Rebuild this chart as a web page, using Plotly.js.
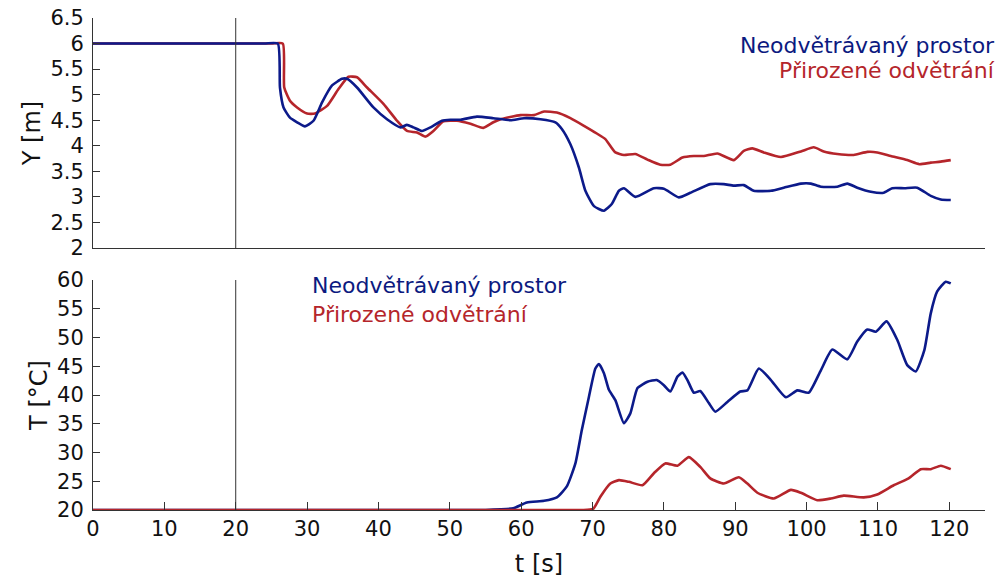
<!DOCTYPE html>
<html>
<head>
<meta charset="utf-8">
<script src="https://cdn.plot.ly/plotly-3.0.1.min.js"></script>
<style>html,body{margin:0;padding:0;background:#fff;}#chart{width:1003px;height:582px;}</style>
</head>
<body>
<div id="chart"></div>
<script>
// ---- data ----
const seriesNames = ["Neodvětrávaný prostor", "Přirozené odvětrání"];
const eventT = 20;

const tYBlue = [0, 12, 24, 25.9, 26.2, 26.7, 27.6, 28.6, 29.7, 30.9, 32.1, 33.5, 34.9, 35.6, 37.0, 39.3, 41.2, 43.1, 44.0, 44.9, 46.1, 47.3, 48.9, 50.1, 51.5, 53.8, 56.1, 58.5, 60.4, 62.7, 64.8, 65.7, 66.9, 68.1, 69.0, 70.2, 71.6, 72.7, 73.7, 74.4, 76.0, 78.6, 80.0, 82.1, 83.7, 86.5, 88.4, 89.8, 91.2, 92.6, 95.0, 96.8, 99.2, 100.6, 102.0, 104.3, 105.7, 107.1, 109.0, 110.8, 112.0, 113.7, 115.5, 117.4, 118.8, 120.2];
const yBlue = [6, 6, 6, 6, 5.14, 4.75, 4.55, 4.46, 4.38, 4.49, 4.85, 5.18, 5.31, 5.31, 5.14, 4.75, 4.52, 4.36, 4.41, 4.36, 4.29, 4.36, 4.49, 4.51, 4.51, 4.57, 4.54, 4.50, 4.54, 4.52, 4.46, 4.33, 4.03, 3.57, 3.12, 2.82, 2.73, 2.86, 3.12, 3.17, 3.0, 3.17, 3.16, 2.99, 3.08, 3.25, 3.25, 3.22, 3.23, 3.12, 3.12, 3.18, 3.26, 3.26, 3.2, 3.2, 3.26, 3.18, 3.1, 3.08, 3.17, 3.17, 3.18, 3.02, 2.95, 2.94];

const tYRed = [0, 12, 25, 26.6, 26.8, 27.6, 28.6, 30.0, 31.1, 32.8, 34.4, 35.8, 37.0, 38.4, 40.7, 42.6, 44.0, 45.4, 46.6, 47.7, 49.1, 51.0, 52.9, 54.7, 56.1, 57.1, 59.9, 61.8, 63.2, 65.0, 66.9, 68.8, 70.6, 71.8, 73.2, 74.4, 76.0, 77.7, 79.5, 80.9, 82.6, 84.2, 85.6, 87.5, 89.8, 91.2, 92.4, 94.0, 96.4, 99.2, 101.0, 102.4, 104.3, 106.6, 108.5, 109.9, 111.8, 114.1, 115.8, 117.4, 118.8, 120.2];
const yRed = [6, 6, 6, 6, 5.14, 4.88, 4.75, 4.63, 4.63, 4.78, 5.11, 5.35, 5.34, 5.14, 4.82, 4.49, 4.29, 4.26, 4.18, 4.29, 4.48, 4.49, 4.43, 4.35, 4.46, 4.52, 4.60, 4.60, 4.67, 4.65, 4.54, 4.39, 4.24, 4.13, 3.87, 3.82, 3.84, 3.73, 3.63, 3.63, 3.77, 3.80, 3.80, 3.85, 3.72, 3.90, 3.95, 3.87, 3.78, 3.89, 3.97, 3.89, 3.84, 3.82, 3.88, 3.87, 3.80, 3.72, 3.64, 3.67, 3.69, 3.72];

const tTBlue = [0, 20, 40, 55, 57.1, 58.9, 60.8, 63.2, 65.0, 66.4, 67.6, 68.5, 69.5, 70.4, 70.9, 71.6, 72.3, 73.2, 74.4, 75.3, 76.3, 77.7, 79.0, 80.0, 80.9, 81.9, 82.6, 83.3, 84.2, 85.1, 86.3, 87.2, 88.9, 90.7, 91.7, 93.3, 95.0, 97.1, 98.7, 100.3, 102.0, 103.6, 105.7, 107.1, 108.5, 109.7, 111.2, 112.7, 114.1, 115.3, 116.5, 117.4, 118.3, 119.5, 120.2];
const TBlue = [20, 20, 20, 20, 20.1, 20.3, 21.3, 21.6, 22.2, 24.1, 28.1, 33.9, 39.7, 44.6, 45.4, 43.8, 40.9, 39.1, 35.1, 36.8, 41.2, 42.3, 42.6, 41.7, 40.6, 43.2, 43.9, 42.6, 40.4, 40.7, 38.6, 37.1, 38.8, 40.6, 40.8, 44.6, 42.6, 39.6, 40.8, 40.4, 44.3, 47.9, 46.2, 49.3, 51.4, 51.0, 52.8, 49.6, 45.2, 44.1, 47.8, 54.2, 58.0, 59.7, 59.4];

const tTRed = [0, 20, 40, 60, 68.5, 70.1, 71.1, 72.5, 73.7, 75.1, 77.0, 78.6, 80.2, 81.9, 83.5, 85.1, 86.5, 88.4, 90.5, 91.7, 93.1, 95.4, 97.8, 99.2, 101.5, 103.4, 105.2, 108.0, 109.9, 112.2, 114.3, 116.0, 117.4, 118.8, 120.2];
const TRed = [20, 20, 20, 20, 20, 20.2, 22.3, 24.6, 25.2, 24.9, 24.3, 26.4, 28.1, 27.7, 29.2, 27.5, 25.5, 24.6, 25.7, 24.6, 23.0, 22.0, 23.5, 23.0, 21.7, 22.0, 22.5, 22.2, 22.7, 24.3, 25.5, 27.1, 27.1, 27.7, 27.1];

const xTicks = [0, 10, 20, 30, 40, 50, 60, 70, 80, 90, 100, 110, 120];

// ---- styles ----
const BLUE = "#0c1a8a";
const RED = "#b5252b";
const AX = "#333333";
const FONT = "DejaVu Sans, Liberation Sans, Arial, sans-serif";

function tr(x, y, color, xa, ya) {
  return {x: x, y: y, type: "scatter", mode: "lines", xaxis: xa, yaxis: ya,
          line: {color: color, width: 2.6, shape: "spline", smoothing: 0.5},
          hoverinfo: "skip", showlegend: false};
}

const data = [
  tr(tYRed, yRed, RED, "x", "y"),
  tr(tYBlue, yBlue, BLUE, "x", "y"),
  tr(tTBlue, TBlue, BLUE, "x2", "y2"),
  tr(tTRed, TRed, RED, "x2", "y2")
];

const layout = {
  width: 1003, height: 582,
  margin: {l: 93, r: 18, t: 18, b: 72},
  paper_bgcolor: "#fff", plot_bgcolor: "#fff",
  font: {family: FONT, size: 21, color: "#111"},
  showlegend: false,
  xaxis: {domain: [0, 1], range: [0, 125], anchor: "y", showline: true, linecolor: AX, linewidth: 1,
          showticklabels: false, ticks: "", showgrid: false, zeroline: false},
  yaxis: {domain: [0.5325, 1], range: [2, 6.5], dtick: 0.5, tick0: 2, anchor: "x",
          showline: true, linecolor: AX, linewidth: 1, ticks: "inside", ticklen: 7, tickcolor: AX,
          showgrid: false, zeroline: false, ticklabelstandoff: 4,
          title: {text: "Y [m]", font: {size: 24, family: FONT}, standoff: 2}},
  xaxis2: {domain: [0, 1], range: [0, 125], anchor: "y2", tickvals: xTicks, ticktext: xTicks.map(String),
           showline: true, linecolor: AX, linewidth: 1, ticks: "inside", ticklen: 8, tickcolor: AX,
           showgrid: false, zeroline: false,
           title: {text: "t [s]", font: {size: 24, family: FONT}, standoff: 14}},
  yaxis2: {domain: [0, 0.4675], range: [20, 60], dtick: 5, tick0: 20, anchor: "x2",
           showline: true, linecolor: AX, linewidth: 1, ticks: "inside", ticklen: 7, tickcolor: AX,
           showgrid: false, zeroline: false, ticklabelstandoff: 4,
           title: {text: "T [°C]", font: {size: 24, family: FONT}, standoff: 2}},
  shapes: [
    {type: "line", xref: "x", yref: "y", x0: eventT, x1: eventT, y0: 2, y1: 6.5, line: {color: AX, width: 1}},
    {type: "line", xref: "x2", yref: "y2", x0: eventT, x1: eventT, y0: 20, y1: 60, line: {color: AX, width: 1}}
  ],
  annotations: [
    {text: seriesNames[0], xref: "paper", yref: "paper", x: 1.0135, y: 0.945, xanchor: "right", yanchor: "middle",
     showarrow: false, font: {size: 22, color: "#0c1a80", family: FONT}},
    {text: seriesNames[1], xref: "paper", yref: "paper", x: 1.0135, y: 0.894, xanchor: "right", yanchor: "middle",
     showarrow: false, font: {size: 22, color: "#b5252b", family: FONT}},
    {text: seriesNames[0], xref: "paper", yref: "paper", x: 0.2433, y: 0.457, xanchor: "left", yanchor: "middle",
     showarrow: false, font: {size: 22, color: "#0c1a80", family: FONT}},
    {text: seriesNames[1], xref: "paper", yref: "paper", x: 0.2433, y: 0.398, xanchor: "left", yanchor: "middle",
     showarrow: false, font: {size: 22, color: "#b5252b", family: FONT}}
  ]
};

Plotly.newPlot("chart", data, layout, {displayModeBar: false, staticPlot: true});
</script>
</body>
</html>
